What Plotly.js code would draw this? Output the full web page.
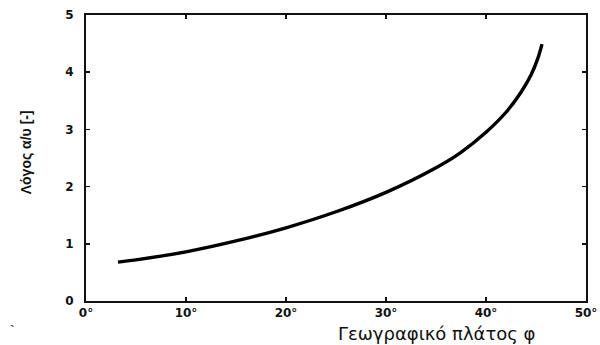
<!DOCTYPE html>
<html>
<head>
<meta charset="utf-8">
<script src="https://cdn.plot.ly/plotly-3.0.1.min.js"></script>
<style>html,body{margin:0;padding:0;background:#fff;}#chart{width:600px;height:345px;}</style>
</head>
<body>
<div id="chart"></div>
<script>
const latitude = [3.2, 5, 10, 15, 20, 25, 30, 35, 37.5, 40, 42, 43.5, 44.5, 45.2, 45.6];
const ratio = [0.68, 0.72, 0.86, 1.05, 1.28, 1.56, 1.9, 2.33, 2.6, 2.95, 3.3, 3.65, 3.95, 4.25, 4.49];
const xTickVals = [0, 10, 20, 30, 40, 50];
const xTickText = ['0°', '10°', '20°', '30°', '40°', '50°'];
const yTickVals = [0, 1, 2, 3, 4, 5];
const xTitle = 'Γεωγραφικό πλάτος φ';
const yTitle = 'Λόγος α/υ [-]';

const fnt = {family: 'Liberation Sans, Arial, sans-serif', color: '#111'};
const wide = {family: 'DejaVu Sans, sans-serif', color: '#111'};

Plotly.newPlot('chart', [{
  x: latitude, y: ratio, type: 'scatter', mode: 'lines',
  line: {color: '#000', width: 3.4, shape: 'spline', smoothing: 1},
  hoverinfo: 'skip'
}], {
  width: 600, height: 345,
  margin: {l: 86, r: 14, t: 15, b: 44},
  paper_bgcolor: '#fff', plot_bgcolor: '#fff',
  showlegend: false,
  xaxis: {
    range: [0, 50], tickvals: xTickVals, ticktext: xTickText,
    showgrid: false, zeroline: false, showline: true, linecolor: '#111', linewidth: 2,
    mirror: 'ticks', ticks: 'inside', ticklen: 4, tickwidth: 1.5, tickcolor: '#111',
    tickfont: Object.assign({size: 12, weight: 'bold'}, wide)
  },
  yaxis: {
    range: [0, 5], tickvals: yTickVals,
    showgrid: false, zeroline: false, showline: true, linecolor: '#111', linewidth: 2,
    mirror: 'ticks', ticks: 'inside', ticklen: 4, tickwidth: 1.5, tickcolor: '#111',
    ticklabelstandoff: 8,
    tickfont: Object.assign({size: 12, weight: 'bold'}, wide)
  },
  annotations: [
    {text: xTitle, xref: 'paper', yref: 'paper', x: 0.70, y: 0, yshift: -20,
     xanchor: 'center', yanchor: 'top', showarrow: false,
     font: Object.assign({size: 18}, wide)},
    {text: yTitle, xref: 'paper', yref: 'paper', x: 0, xshift: -60, y: 0.52,
     xanchor: 'center', yanchor: 'middle', textangle: -90, showarrow: false,
     font: Object.assign({size: 14, weight: 'bold'}, fnt)},
    {text: '`', xref: 'paper', yref: 'paper', x: 0, xshift: -78, y: 0, yshift: -20,
     xanchor: 'left', yanchor: 'top', showarrow: false,
     font: Object.assign({size: 14}, fnt)}
  ]
}, {staticPlot: true});
</script>
</body>
</html>
